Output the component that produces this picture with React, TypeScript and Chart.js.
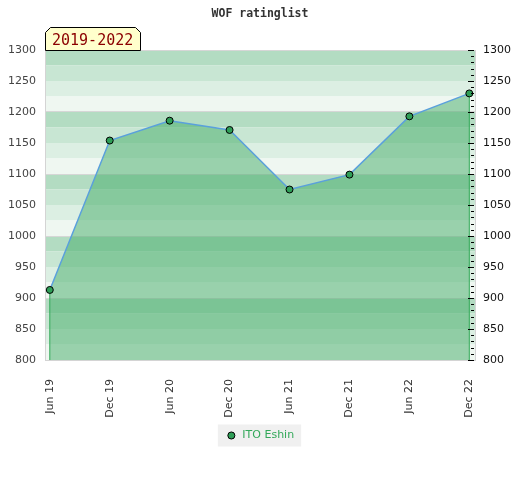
import React, { useEffect, useRef } from 'react';
import { Chart, registerables } from 'chart.js';

Chart.register(...registerables);

// ---- data ----
const categories: string[] = ['Jun 19', 'Dec 19', 'Jun 20', 'Dec 20', 'Jun 21', 'Dec 21', 'Jun 22', 'Dec 22'];
const ratings: number[] = [913, 1154, 1186, 1171, 1075, 1099, 1193, 1230];
const seriesName = 'ITO Eshin';
const chartTitle = 'WOF ratinglist';
const periodLabel = '2019-2022';
const yMin = 800;
const yMax = 1300;
const yStep = 50;

// ---- styles ----
const bandColors = ['#b3dcc2', '#c8e6d3', '#dcefe3', '#eff7f1'];
const FONT = 'DejaVu Sans';
const POINT_FILL = '#2f9e57';

const bandsPlugin = {
  id: 'bands',
  beforeDraw(chart: any) {
    const { ctx, chartArea: a, scales } = chart;
    const y = scales.y;
    ctx.save();
    let i = 0;
    for (let v = yMax; v > yMin; v -= 25, i++) {
      const t = y.getPixelForValue(v);
      const b = y.getPixelForValue(v - 25);
      ctx.fillStyle = bandColors[i % 4];
      ctx.fillRect(a.left, t, a.right - a.left, b - t);
    }
    // legend background
    const hb = chart.legend && chart.legend.legendHitBoxes && chart.legend.legendHitBoxes[0];
    if (hb) {
      ctx.fillStyle = '#f0f0f0';
      ctx.fillRect(hb.left - 8, hb.top - 5.5, hb.width + 15, hb.height + 11);
    }
    ctx.restore();
  },
};

const minorTicksPlugin = {
  id: 'minorTicks',
  afterDatasetsDraw(chart: any) {
    const { ctx, chartArea: a, scales } = chart;
    const y = scales.y;
    ctx.save();
    ctx.strokeStyle = '#000';
    ctx.lineWidth = 1;
    ctx.beginPath();
    for (let v = yMin; v <= yMax; v += 10) {
      const py = Math.round(y.getPixelForValue(v)) + 0.5;
      const len = v % 50 === 0 ? 6 : 3;
      ctx.moveTo(a.right - 1 - len, py);
      ctx.lineTo(a.right - 1, py);
    }
    ctx.stroke();
    ctx.restore();
  },
};

const periodBoxPlugin = {
  id: 'periodBox',
  afterDraw(chart: any) {
    const { ctx, chartArea: a } = chart;
    const x0 = a.left + 0.5;
    const y1 = a.top + 0.5;
    const w = 95;
    const h = 23;
    const c = 5;
    ctx.save();
    ctx.beginPath();
    ctx.moveTo(x0, y1);
    ctx.lineTo(x0, y1 - h + c);
    ctx.lineTo(x0 + c, y1 - h);
    ctx.lineTo(x0 + w - c, y1 - h);
    ctx.lineTo(x0 + w, y1 - h + c);
    ctx.lineTo(x0 + w, y1);
    ctx.closePath();
    ctx.fillStyle = '#ffffcc';
    ctx.fill();
    ctx.strokeStyle = '#000';
    ctx.lineWidth = 1;
    ctx.stroke();
    ctx.fillStyle = '#8b0000';
    ctx.font = '15px "DejaVu Sans Mono"';
    ctx.textBaseline = 'alphabetic';
    ctx.textAlign = 'left';
    ctx.fillText(periodLabel, a.left + 7, a.top - 5);
    ctx.restore();
  },
};

export default function App() {
  const canvasRef = useRef<HTMLCanvasElement | null>(null);

  useEffect(() => {
    document.body.style.margin = '0';
    const canvas = canvasRef.current;
    if (!canvas) return;
    Chart.defaults.font.family = FONT;

    const points = ratings.map((v, i) => ({ x: i, y: v }));
    const last = ratings.length - 1;

    const chart = new Chart(canvas, {
      type: 'line',
      data: {
        datasets: [
          {
            label: seriesName,
            data: points,
            order: 0,
            borderColor: '#5aa0dc',
            borderWidth: 1.5,
            backgroundColor: 'rgba(67,172,104,0.5)',
            fill: 'start',
            tension: 0,
            pointRadius: 0,
            pointBackgroundColor: POINT_FILL,
            pointBorderColor: '#000',
            pointBorderWidth: 1,
          },
          {
            label: 'edge-start',
            data: [{ x: 0, y: yMin }, { x: 0, y: ratings[0] }],
            order: -1,
            borderColor: '#30a855',
            borderWidth: 1,
            pointRadius: 0,
            fill: false,
          },
          {
            label: 'edge-end',
            data: [{ x: last, y: yMin }, { x: last, y: ratings[last] }],
            order: -1,
            borderColor: '#30a855',
            borderWidth: 1,
            pointRadius: 0,
            fill: false,
          },
          {
            label: 'points',
            data: points,
            order: -2,
            showLine: false,
            fill: false,
            pointRadius: 3.5,
            pointBackgroundColor: POINT_FILL,
            pointBorderColor: '#000',
            pointBorderWidth: 1,
          },
        ],
      },
      options: {
        responsive: false,
        animation: false,
        layout: { padding: { top: 0, bottom: 29, left: 0, right: 0 } },
        plugins: {
          tooltip: { enabled: false },
          title: {
            display: true,
            text: chartTitle,
            color: '#333',
            font: { family: 'DejaVu Sans Mono', size: 11.5, weight: 'bold', lineHeight: 1 },
            padding: { top: 8.5, bottom: 30 },
          },
          legend: {
            position: 'bottom',
            labels: {
              usePointStyle: true,
              pointStyle: 'circle',
              boxWidth: 11,
              boxHeight: 5,
              padding: 10,
              color: '#33a85a',
              font: { family: FONT, size: 11 },
              filter: (item: any) => item.datasetIndex === 0,
            },
          },
        },
        scales: {
          x: {
            type: 'linear',
            min: -0.08,
            max: last + 0.095,
            afterBuildTicks: (scale: any) => {
              scale.ticks = categories.map((_, i) => ({ value: i }));
            },
            afterFit: (scale: any) => {
              scale.height = 60;
            },
            ticks: {
              autoSkip: false,
              minRotation: 90,
              maxRotation: 90,
              padding: 11,
              color: '#333',
              font: { family: FONT, size: 11 },
              callback: (v: any) => categories[v as number] ?? '',
            },
            grid: { display: false },
            border: { display: true, color: '#d4d4d4', width: 1 },
          },
          y: {
            type: 'linear',
            position: 'left',
            min: yMin,
            max: yMax,
            afterFit: (scale: any) => {
              scale.width = 45;
            },
            ticks: {
              stepSize: yStep,
              padding: 9,
              color: '#444',
              font: { family: FONT, size: 11 },
              callback: (v: any) => String(v),
            },
            grid: {
              drawTicks: false,
              lineWidth: 1,
              color: (ctx: any) => (ctx.tick && ctx.tick.value % 100 === 0 ? '#d6d6d6' : 'rgba(0,0,0,0)'),
            },
            border: { display: true, color: '#d4d4d4', width: 1 },
          },
          y2: {
            type: 'linear',
            position: 'right',
            min: yMin,
            max: yMax,
            afterFit: (scale: any) => {
              scale.width = 45;
            },
            ticks: {
              stepSize: yStep,
              padding: 8,
              color: '#111',
              font: { family: FONT, size: 11 },
              callback: (v: any) => String(v),
            },
            grid: { display: false, drawTicks: false },
            border: { display: true, color: '#d4d4d4', width: 1 },
          },
        },
      },
      plugins: [bandsPlugin, minorTicksPlugin, periodBoxPlugin],
    } as any);

    return () => {
      chart.destroy();
    };
  }, []);

  return (
    <div style={{ width: 520, height: 480, background: '#fff' }}>
      <canvas ref={canvasRef} width={520} height={480} style={{ display: 'block' }} />
    </div>
  );
}
